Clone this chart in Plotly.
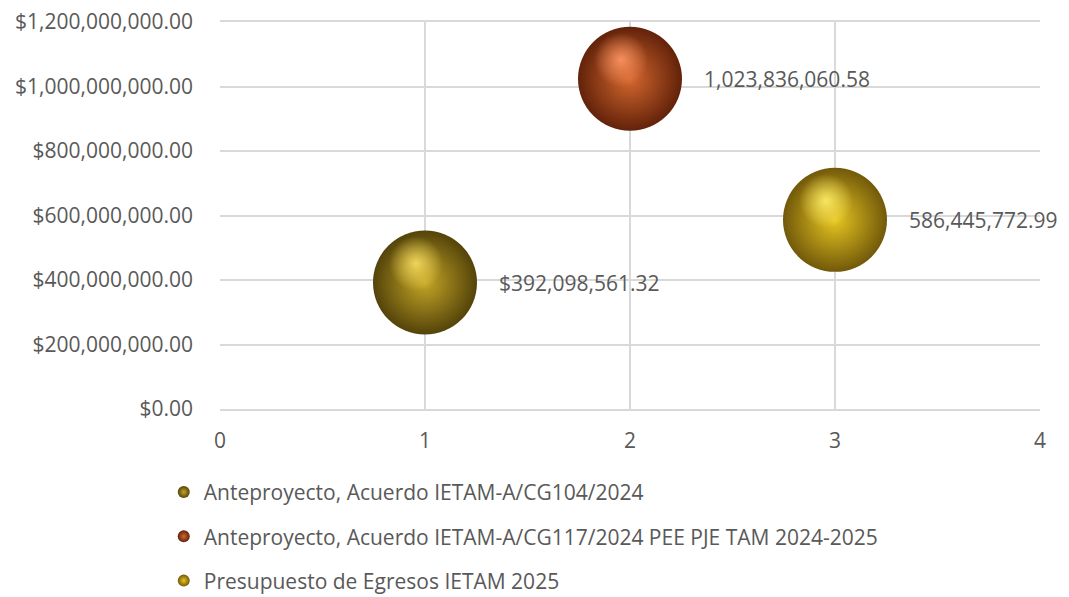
import plotly.graph_objects as go

series_names = [
    "Anteproyecto, Acuerdo IETAM-A/CG104/2024",
    "Anteproyecto, Acuerdo IETAM-A/CG117/2024 PEE PJE TAM 2024-2025",
    "Presupuesto de Egresos IETAM 2025",
]
x_values = [1, 2, 3]
y_values = [392098561.32, 1023836060.58, 586445772.99]
label_texts = ["$392,098,561.32", "1,023,836,060.58", "586,445,772.99"]
mid_colors = ["#C4A626", "#D4672E", "#E6C520"]
edge_colors = ["#54430A", "#62220A", "#72590A"]
highlight_rgb = ["248,222,96", "255,150,100", "255,238,104"]

FONT = "Open Sans"
FS = 21
TXT = "#595959"

# layout geometry (pixels)
L, R, T, B = 212, 37, 14, 196
W, H = 1069, 597
PW, PH = W - L - R, H - T - B
X_RANGE = [0, 4]
Y_RANGE = [0, 1.2e9]
HL_LEFT, HL_UP = 9, 19  # highlight offset in px
xs = HL_LEFT * (X_RANGE[1] - X_RANGE[0]) / PW
ys = HL_UP * (Y_RANGE[1] - Y_RANGE[0]) / PH

fig = go.Figure()
for i, name in enumerate(series_names):
    fig.add_trace(go.Scatter(
        x=[x_values[i]], y=[y_values[i]], mode="markers", name=name,
        legendgroup=f"g{i}",
        marker=dict(size=104, color=edge_colors[i],
                    gradient=dict(type="radial", color=mid_colors[i]),
                    line=dict(width=0)),
        cliponaxis=False, hoverinfo="skip",
    ))
for i, name in enumerate(series_names):
    fig.add_trace(go.Scatter(
        x=[x_values[i]], y=[y_values[i]], mode="markers", name=name,
        showlegend=False, xaxis="x2", yaxis="y2",
        marker=dict(size=54, color=f"rgba({highlight_rgb[i]},0)",
                    gradient=dict(type="radial", color=f"rgba({highlight_rgb[i]},0.9)"),
                    line=dict(width=0)),
        cliponaxis=False, hoverinfo="skip",
    ))
for i in range(len(series_names)):
    fig.add_annotation(x=x_values[i], y=y_values[i], text=label_texts[i],
                       showarrow=False, xanchor="left", yanchor="middle",
                       xshift=72, font=dict(family=FONT, size=FS, color=TXT))

fig.update_layout(
    width=W, height=H,
    margin=dict(l=L, r=R, t=T, b=B, autoexpand=False),
    paper_bgcolor="white", plot_bgcolor="white",
    font=dict(family=FONT, size=FS, color=TXT),
    showlegend=True,
    legend=dict(orientation="v", xref="container", yref="container",
                x=0.1457, y=0.223, xanchor="left", yanchor="top",
                itemsizing="constant", itemwidth=30, tracegroupgap=14,
                font=dict(family=FONT, size=FS, color=TXT)),
    xaxis=dict(range=X_RANGE, dtick=1, tick0=0, showgrid=True, gridcolor="#d9d9d9",
               gridwidth=1.5, zeroline=False, showline=True, mirror=True,
               linecolor="#d9d9d9", linewidth=1.5, ticks="", ticklabelstandoff=12,
               tickfont=dict(family=FONT, size=FS, color=TXT)),
    yaxis=dict(range=Y_RANGE, dtick=2e8, tick0=0, showgrid=True, gridcolor="#d9d9d9",
               gridwidth=1.5, zeroline=False, showline=False, ticks="",
               tickformat="$,.2f", ticklabelstandoff=26, ticklabeloverflow="allow",
               tickfont=dict(family=FONT, size=FS, color=TXT)),
    xaxis2=dict(range=[X_RANGE[0] + xs, X_RANGE[1] + xs], overlaying="x",
                visible=False, showgrid=False, zeroline=False),
    yaxis2=dict(range=[Y_RANGE[0] - ys, Y_RANGE[1] - ys], overlaying="y",
                visible=False, showgrid=False, zeroline=False),
)

fig.write_html("out.html")
